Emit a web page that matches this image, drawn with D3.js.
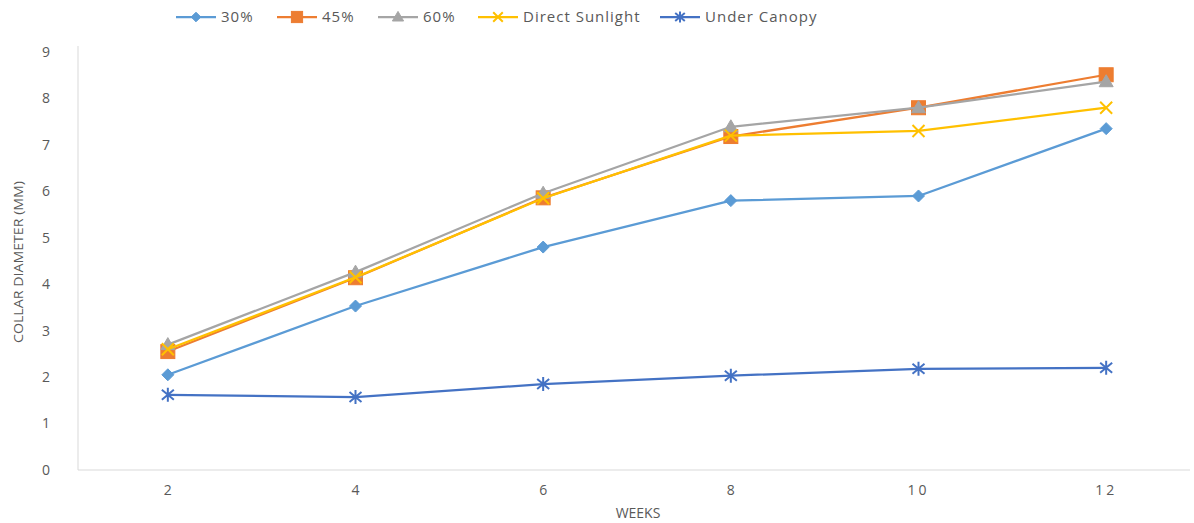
<!DOCTYPE html>
<html>
<head>
<meta charset="utf-8">
<script src="https://cdn.jsdelivr.net/npm/d3@7"></script>
<style>
  html, body { margin: 0; padding: 0; background: #fff; }
  svg { display: block; font-family: "Open Sans", "Liberation Sans", sans-serif; }
</style>
</head>
<body>
<svg id="chart" width="1194" height="523"></svg>
<script>
// Collar diameter (mm) over weeks, per shading treatment
const weeks = ["2", "4", "6", "8", "10", "12"];
const seriesNames = ["30%", "45%", "60%", "Direct Sunlight", "Under Canopy"];
const shade30 = [2.05, 3.53, 4.80, 5.80, 5.90, 7.35];
const shade45 = [2.55, 4.14, 5.86, 7.18, 7.80, 8.51];
const shade60 = [2.70, 4.26, 5.96, 7.39, 7.80, 8.36];
const directSunlight = [2.60, 4.15, 5.85, 7.20, 7.30, 7.80];
const underCanopy = [1.62, 1.57, 1.85, 2.03, 2.18, 2.20];
const yTicks = [0, 1, 2, 3, 4, 5, 6, 7, 8, 9];

const series = [
  { name: seriesNames[0], values: shade30, color: "#5B9BD5", marker: "diamond" },
  { name: seriesNames[1], values: shade45, color: "#ED7D31", marker: "square" },
  { name: seriesNames[2], values: shade60, color: "#A5A5A5", marker: "triangle" },
  { name: seriesNames[3], values: directSunlight, color: "#FFC000", marker: "cross" },
  { name: seriesNames[4], values: underCanopy, color: "#4472C4", marker: "star" }
];

const svg = d3.select("#chart");
const plotLeft = 78, plotRight = 1190, plotTop = 52, plotBottom = 470;

const x = d3.scalePoint().domain(weeks).range([74, 1200]).padding(0.5);
const y = d3.scaleLinear().domain([0, 9]).range([plotBottom, plotTop]);

// axis lines
svg.append("line").attr("x1", plotLeft).attr("x2", plotLeft).attr("y1", plotTop - 6).attr("y2", plotBottom)
  .attr("stroke", "#d9d9d9").attr("stroke-width", 1);
svg.append("line").attr("x1", plotLeft).attr("x2", plotRight).attr("y1", plotBottom).attr("y2", plotBottom)
  .attr("stroke", "#d9d9d9").attr("stroke-width", 1);

// y tick labels
svg.append("g").selectAll("text").data(yTicks).join("text")
  .attr("x", 46).attr("y", d => y(d)).attr("dy", "0.35em")
  .attr("text-anchor", "middle").attr("font-size", 14).attr("fill", "#595959")
  .text(d => d);

// x tick labels
svg.append("g").selectAll("text").data(weeks).join("text")
  .attr("x", d => x(d)).attr("y", 495)
  .attr("text-anchor", "middle").attr("font-size", 14).attr("fill", "#595959")
  .attr("letter-spacing", d => d.length > 1 ? "3px" : "0px")
  .text(d => d);

// axis titles
svg.append("text").attr("x", 638).attr("y", 518).attr("text-anchor", "middle")
  .attr("font-size", 14).attr("fill", "#595959").text("WEEKS");
svg.append("text").attr("transform", "translate(23,262) rotate(-90)")
  .attr("text-anchor", "middle").attr("font-size", 13).attr("fill", "#595959")
  .attr("textLength", 162).attr("lengthAdjust", "spacingAndGlyphs")
  .text("COLLAR DIAMETER (MM)");

// marker shapes
function drawMarker(g, type, cx, cy, color, s = 1) {
  if (type === "diamond") {
    g.append("path").attr("d", `M${cx},${cy - 6 * s}L${cx + 6 * s},${cy}L${cx},${cy + 6 * s}L${cx - 6 * s},${cy}Z`)
      .attr("fill", color).attr("stroke", color).attr("stroke-width", 1);
  } else if (type === "square") {
    g.append("rect").attr("x", cx - 7 * s).attr("y", cy - 7 * s).attr("width", 14 * s).attr("height", 14 * s)
      .attr("fill", color).attr("stroke", color);
  } else if (type === "triangle") {
    g.append("path").attr("d", `M${cx},${cy - 7 * s}L${cx + 7 * s},${cy + 5 * s}L${cx - 7 * s},${cy + 5 * s}Z`)
      .attr("fill", color).attr("stroke", color);
  } else if (type === "cross") {
    g.append("path").attr("d", `M${cx - 6 * s},${cy - 6 * s}L${cx + 6 * s},${cy + 6 * s}M${cx - 6 * s},${cy + 6 * s}L${cx + 6 * s},${cy - 6 * s}`)
      .attr("stroke", color).attr("stroke-width", 2).attr("fill", "none");
  } else if (type === "star") {
    g.append("path").attr("d", `M${cx - 6 * s},${cy - 5 * s}L${cx + 6 * s},${cy + 5 * s}M${cx - 6 * s},${cy + 5 * s}L${cx + 6 * s},${cy - 5 * s}M${cx},${cy - 7 * s}L${cx},${cy + 7 * s}`)
      .attr("stroke", color).attr("stroke-width", 2).attr("fill", "none");
  }
}

const line = d3.line().x((d, i) => x(weeks[i])).y(d => y(d));

const plot = svg.append("g");
series.forEach(s => {
  const g = plot.append("g");
  g.append("path").datum(s.values).attr("d", line)
    .attr("fill", "none").attr("stroke", s.color).attr("stroke-width", 2.25)
    .attr("stroke-linejoin", "round");
  s.values.forEach((v, i) => drawMarker(g, s.marker, x(weeks[i]), y(v), s.color));
});

// legend
const legendX = [176, 277, 378, 478, 660];
const legend = svg.append("g");
series.forEach((s, i) => {
  const lx = legendX[i], ly = 17;
  legend.append("line").attr("x1", lx).attr("x2", lx + 40).attr("y1", ly).attr("y2", ly)
    .attr("stroke", s.color).attr("stroke-width", 2.25);
  drawMarker(legend, s.marker, lx + 20, ly, s.color, 0.8);
  legend.append("text").attr("x", lx + 45).attr("y", ly).attr("dy", "0.35em")
    .attr("font-size", 15).attr("fill", "#595959").attr("letter-spacing", "1px").text(s.name);
});
</script>
</body>
</html>
